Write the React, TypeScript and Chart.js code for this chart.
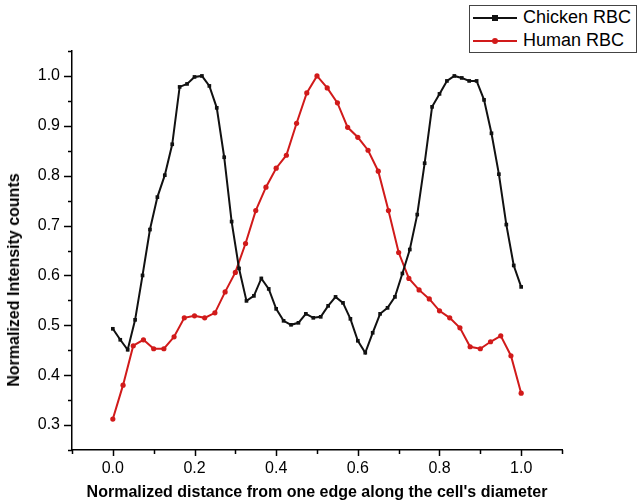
import React, { useEffect, useRef } from "react";
import { Chart, registerables } from "chart.js";

Chart.register(...registerables);

// Chicken RBC normalized intensity (56 samples across the diameter)
const chickenValues = [
  0.493, 0.471, 0.451, 0.511, 0.6, 0.692, 0.757, 0.801, 0.863, 0.978,
  0.984, 0.998, 1.0, 0.98, 0.936, 0.837, 0.708, 0.614, 0.549, 0.559,
  0.594, 0.573, 0.533, 0.509, 0.501, 0.505, 0.523, 0.515, 0.517, 0.539,
  0.557, 0.545, 0.513, 0.469, 0.445, 0.485, 0.523, 0.535, 0.557, 0.604,
  0.652, 0.722, 0.825, 0.938, 0.964, 0.99, 1.0, 0.996, 0.99, 0.99,
  0.952, 0.885, 0.803, 0.702, 0.62, 0.577,
];

// Human RBC normalized intensity (41 samples across the diameter)
const humanValues = [
  0.312, 0.38, 0.459, 0.471, 0.453, 0.453, 0.477, 0.515, 0.519, 0.515,
  0.525, 0.567, 0.606, 0.664, 0.73, 0.777, 0.815, 0.841, 0.905, 0.966,
  1.0, 0.976, 0.946, 0.897, 0.877, 0.851, 0.809, 0.73, 0.646, 0.594,
  0.571, 0.553, 0.529, 0.515, 0.495, 0.457, 0.453, 0.467, 0.479, 0.439,
  0.364,
];

const seriesNames = ["Chicken RBC", "Human RBC"];
const xTitle = "Normalized distance from one edge along the cell's diameter";
const yTitle = "Normalized Intensity counts";

const xTicks = [-0.1, 0, 0.1, 0.2, 0.3, 0.4, 0.5, 0.6, 0.7, 0.8, 0.9, 1.0, 1.1];
const xLabeled = [0, 0.2, 0.4, 0.6, 0.8, 1.0];
const yTicks = [0.25, 0.3, 0.35, 0.4, 0.45, 0.5, 0.55, 0.6, 0.65, 0.7, 0.75, 0.8, 0.85, 0.9, 0.95, 1.0, 1.05];
const yLabeled = [0.3, 0.4, 0.5, 0.6, 0.7, 0.8, 0.9, 1.0];

const FONT = "'Liberation Sans', Arial, Helvetica, sans-serif";
const BLACK = "#111111";
const RED = "#d11a1a";

const near = (a: number, list: number[]) => list.some((b) => Math.abs(a - b) < 1e-6);

const toPoints = (vals: number[]) =>
  vals.map((v, i) => ({ x: i / (vals.length - 1), y: v }));

const tickMarks = {
  id: "tickMarks",
  afterDraw(chart: any) {
    const { ctx, chartArea } = chart;
    const xs = chart.scales.x;
    const ys = chart.scales.y;
    ctx.save();
    ctx.strokeStyle = "#000";
    ctx.lineWidth = 1.5;
    xTicks.forEach((v) => {
      const px = Math.round(xs.getPixelForValue(v)) + 0.5;
      const len = near(v, xLabeled) ? 6 : 4;
      ctx.beginPath();
      ctx.moveTo(px, chartArea.bottom);
      ctx.lineTo(px, chartArea.bottom + len);
      ctx.stroke();
    });
    yTicks.forEach((v) => {
      const py = Math.round(ys.getPixelForValue(v)) + 0.5;
      const len = near(v, yLabeled) ? 8 : 4;
      ctx.beginPath();
      ctx.moveTo(chartArea.left, py);
      ctx.lineTo(chartArea.left - len, py);
      ctx.stroke();
    });
    ctx.restore();
  },
};

function LegendRow({ color, label, square }: { color: string; label: string; square: boolean }) {
  return (
    <div style={{ display: "flex", alignItems: "center", height: 23 }}>
      <div style={{ position: "relative", width: 44, height: 10, marginLeft: 3, marginRight: 6 }}>
        <div style={{ position: "absolute", left: 0, right: 0, top: 4, height: 2, background: color }} />
        <div
          style={{
            position: "absolute",
            left: 19,
            top: 2,
            width: 6,
            height: 6,
            background: color,
            borderRadius: square ? 0 : 3,
          }}
        />
      </div>
      <span style={{ fontFamily: FONT, fontSize: 18, color: "#000", whiteSpace: "nowrap" }}>{label}</span>
    </div>
  );
}

export default function App() {
  const canvasRef = useRef<HTMLCanvasElement | null>(null);

  useEffect(() => {
    if (!canvasRef.current) return;
    const chart = new Chart(canvasRef.current, {
      type: "line",
      data: {
        datasets: [
          {
            label: seriesNames[0],
            data: toPoints(chickenValues),
            borderColor: BLACK,
            backgroundColor: BLACK,
            borderWidth: 2,
            pointStyle: "rect",
            pointRadius: 2.6,
            pointBorderWidth: 0,
            tension: 0,
          },
          {
            label: seriesNames[1],
            data: toPoints(humanValues),
            borderColor: RED,
            backgroundColor: RED,
            borderWidth: 2,
            pointStyle: "circle",
            pointRadius: 2.6,
            pointBorderWidth: 0,
            tension: 0,
          },
        ],
      },
      options: {
        animation: false,
        responsive: false,
        maintainAspectRatio: false,
        layout: { padding: { left: 0, right: 78, top: 51, bottom: 0 } },
        plugins: { legend: { display: false }, tooltip: { enabled: false } },
        scales: {
          x: {
            type: "linear",
            min: -0.1,
            max: 1.1,
            afterBuildTicks: (s: any) => {
              s.ticks = xTicks.map((v) => ({ value: v }));
            },
            afterFit: (s: any) => {
              s.height = 54;
            },
            ticks: {
              autoSkip: false,
              maxRotation: 0,
              padding: 9,
              color: "#000",
              font: { family: FONT, size: 16 },
              callback: (v: any) => (near(Number(v), xLabeled) ? Number(v).toFixed(1) : ""),
            },
            grid: { display: true, drawOnChartArea: false, drawTicks: false },
            border: { display: true, color: "#000", width: 1.5 },
            title: {
              display: true,
              text: xTitle,
              color: "#000",
              font: { family: FONT, size: 16, weight: "bold" },
              padding: { top: 0, bottom: 2 },
            },
          },
          y: {
            type: "linear",
            min: 0.25,
            max: 1.05,
            afterBuildTicks: (s: any) => {
              s.ticks = yTicks.map((v) => ({ value: v }));
            },
            afterFit: (s: any) => {
              s.width = 72;
            },
            ticks: {
              autoSkip: false,
              padding: 12,
              color: "#000",
              font: { family: FONT, size: 16 },
              callback: (v: any) => (near(Number(v), yLabeled) ? Number(v).toFixed(1) : ""),
            },
            grid: { display: true, drawOnChartArea: false, drawTicks: false },
            border: { display: true, color: "#000", width: 1.5 },
            title: { display: false },
          },
        },
      },
      plugins: [tickMarks],
    } as any);
    return () => chart.destroy();
  }, []);

  return (
    <div style={{ position: "fixed", left: 0, top: 0, width: 640, height: 504, background: "#fff" }}>
      <canvas ref={canvasRef} width={640} height={504} style={{ width: 640, height: 504, display: "block" }} />
      <div
        style={{
          position: "absolute",
          left: 14,
          top: 280,
          transform: "translate(-50%, -50%) rotate(-90deg)",
          fontFamily: FONT,
          fontWeight: "bold",
          fontSize: 16,
          color: "#000",
          whiteSpace: "nowrap",
        }}
      >
        {yTitle}
      </div>
      <div
        style={{
          position: "absolute",
          left: 469,
          top: 5,
          width: 168,
          height: 48,
          border: "1px solid #444",
          boxSizing: "border-box",
          background: "#fff",
          display: "flex",
          flexDirection: "column",
          justifyContent: "center",
        }}
      >
        <LegendRow color={BLACK} label={seriesNames[0]} square={true} />
        <LegendRow color={RED} label={seriesNames[1]} square={false} />
      </div>
    </div>
  );
}
